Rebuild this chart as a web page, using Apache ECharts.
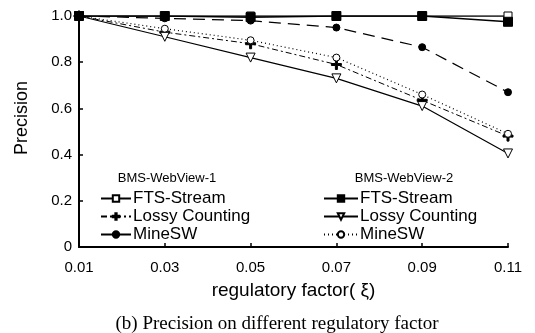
<!DOCTYPE html>
<html>
<head>
<meta charset="utf-8">
<script src="https://cdn.jsdelivr.net/npm/echarts@6/dist/echarts.min.js"></script>
<style>
html,body{margin:0;padding:0;background:#fff;}
#chart{width:535px;height:333px;}
</style>
</head>
<body>
<div id="chart"></div>
<script>
var categories = ['0.01', '0.03', '0.05', '0.07', '0.09', '0.11'];
var yTicks = [0, 0.2, 0.4, 0.6, 0.8, 1.0];
// BMS-WebView-1
var ftsStream1 = [1.0, 1.0, 1.0, 1.0, 1.0, 1.0];
var lossyCounting1 = [1.0, 0.93, 0.88, 0.79, 0.635, 0.48];
var mineSW1 = [1.0, 0.99, 0.98, 0.95, 0.865, 0.67];
// BMS-WebView-2
var ftsStream2 = [1.0, 1.0, 0.995, 1.0, 1.0, 0.975];
var lossyCounting2 = [1.0, 0.91, 0.82, 0.73, 0.61, 0.405];
var mineSW2 = [1.0, 0.945, 0.895, 0.82, 0.66, 0.49];

var legendTitle1 = 'BMS-WebView-1';
var legendTitle2 = 'BMS-WebView-2';
var xName = 'regulatory factor( ξ)';
var yName = 'Precision';
var caption = '(b) Precision on different regulatory factor';

var FONT = 'Liberation Sans, Arial, sans-serif';
var plusPath = 'path://M4,0 H6 V4 H10 V6 H6 V10 H4 V6 H0 V4 H4 Z';

function mk(name, data, symbol, size, fill, lineType, lineWidth, z, rotate) {
  return {
    type: 'line', name: name, data: data,
    symbol: symbol, symbolSize: size, symbolRotate: rotate || 0,
    showAllSymbol: true, z: z,
    itemStyle: { color: fill, borderColor: '#000', borderWidth: 1 },
    lineStyle: { color: '#000', width: lineWidth, type: lineType },
    emphasis: { disabled: true },
    animation: false
  };
}

var chart = echarts.init(document.getElementById('chart'), null, { renderer: 'canvas' });
chart.setOption({
  backgroundColor: '#fff',
  animation: false,
  grid: { left: 79, right: 27, top: 16, bottom: 86 },
  xAxis: {
    type: 'category', data: categories, boundaryGap: false,
    axisLine: { lineStyle: { color: '#000', width: 2 } },
    axisTick: { inside: true, length: 4, lineStyle: { color: '#000', width: 1.5 } },
    axisLabel: { color: '#000', fontFamily: FONT, fontSize: 15, margin: 13 },
    name: xName, nameLocation: 'middle', nameGap: 34,
    nameTextStyle: { color: '#000', fontFamily: FONT, fontSize: 19 }
  },
  yAxis: {
    type: 'value', min: 0, max: 1, interval: 0.2,
    axisLine: { show: true, lineStyle: { color: '#000', width: 2 } },
    axisTick: { show: true, inside: true, length: 4, lineStyle: { color: '#000', width: 1.5 } },
    splitLine: { show: false },
    axisLabel: {
      color: '#000', fontFamily: FONT, fontSize: 15, margin: 7,
      formatter: function (v) { return v === 0 ? '0' : v.toFixed(1); }
    }
  },
  title: [
    { text: legendTitle1, left: 162, top: 167, textAlign: 'center',
      textStyle: { fontFamily: FONT, fontSize: 13, fontWeight: 'normal', color: '#000' } },
    { text: legendTitle2, left: 399, top: 167, textAlign: 'center',
      textStyle: { fontFamily: FONT, fontSize: 13, fontWeight: 'normal', color: '#000' } },
    { text: caption, left: 272, top: 310, textAlign: 'center',
      textStyle: { fontFamily: 'Liberation Serif, Times New Roman, serif', fontSize: 19, fontWeight: 'normal', color: '#000' } }
  ],
  graphic: [
    { type: 'text', x: 22, y: 118, rotation: Math.PI / 2,
      style: { text: yName, fill: '#000', font: '18px ' + FONT, align: 'center', verticalAlign: 'middle' } }
  ],
  legend: [
    { orient: 'vertical', left: 95, top: 185, itemWidth: 30, itemHeight: 8, itemGap: 1,
      selectedMode: false, textStyle: { fontFamily: FONT, fontSize: 17, color: '#000', padding: [0,0,0,-3] },
      formatter: function (n) { return n.replace(/ \(\d\)$/, ''); },
      data: ['FTS-Stream (1)', 'Lossy Counting (1)', 'MineSW (1)'] },
    { orient: 'vertical', left: 318, top: 185, itemWidth: 34, itemHeight: 8, itemGap: 1,
      selectedMode: false, textStyle: { fontFamily: FONT, fontSize: 17, color: '#000', padding: [0,0,0,-3] },
      formatter: function (n) { return n.replace(/ \(\d\)$/, ''); },
      data: ['FTS-Stream (2)', 'Lossy Counting (2)', 'MineSW (2)'] }
  ],
  series: [
    mk('FTS-Stream (1)', ftsStream1, 'rect', 8, '#fff', 'solid', 1.5, 3),
    mk('Lossy Counting (1)', lossyCounting1, plusPath, 10, '#000', [6, 3, 2, 3], 1, 4),
    mk('MineSW (1)', mineSW1, 'circle', 7, '#000', [12, 7], 1.2, 4),
    mk('FTS-Stream (2)', ftsStream2, 'rect', 9, '#000', 'solid', 1.5, 6),
    mk('Lossy Counting (2)', lossyCounting2, 'triangle', 9, '#fff', 'solid', 1.2, 4, 180),
    mk('MineSW (2)', mineSW2, 'circle', 7, '#fff', [1, 3], 1.2, 5)
  ]
});
</script>
</body>
</html>
